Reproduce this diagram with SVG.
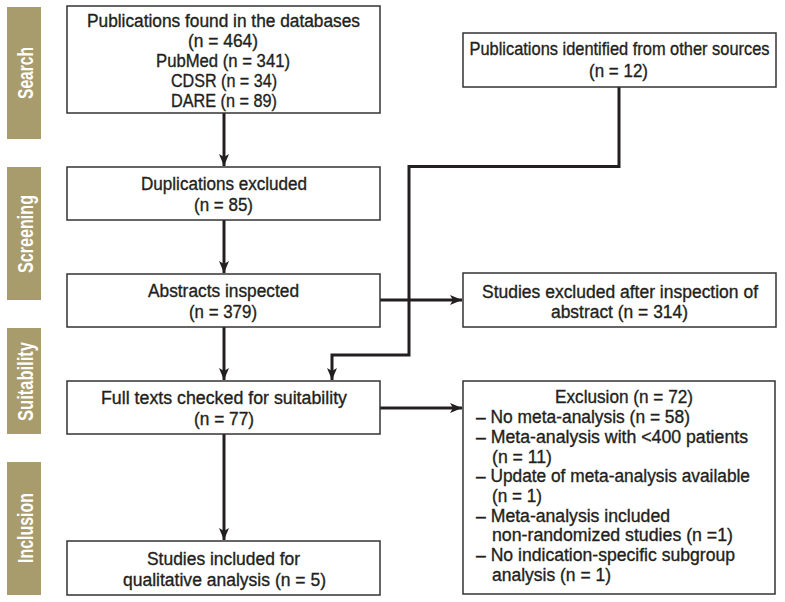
<svg xmlns="http://www.w3.org/2000/svg" width="785" height="602" viewBox="0 0 785 602">
<defs>
<marker id="ah" markerWidth="12" markerHeight="10" refX="12" refY="5" orient="auto" markerUnits="userSpaceOnUse">
<path d="M0,0 L12,5 L0,10 L3,5 Z" fill="#231f20"/>
</marker>
<style>
.bar{fill:#a89b6c}
.bt{fill:#fff;font-family:"Liberation Sans",Arial,sans-serif;font-weight:bold;font-size:22px;text-anchor:middle}
.box{fill:#fff;stroke:#333;stroke-width:1.5}
.t{fill:#231f20;font-family:"Liberation Sans",Arial,sans-serif;font-size:18px;text-anchor:middle;stroke:#231f20;stroke-width:0.35}
.l{text-anchor:start}
.c{fill:none;stroke:#231f20;stroke-width:3}
</style>
</defs>
<rect width="785" height="602" fill="#fff"/>
<g id="phases">
<g id="search"><rect class="bar" x="7" y="7" width="34" height="132"/><text class="bt" transform="translate(33,73) rotate(-90)" textLength="52" lengthAdjust="spacingAndGlyphs">Search</text></g>
<g id="screening"><rect class="bar" x="7" y="167" width="34" height="133"/><text class="bt" transform="translate(33,234) rotate(-90)" textLength="78" lengthAdjust="spacingAndGlyphs">Screening</text></g>
<g id="suitability"><rect class="bar" x="7" y="328" width="34" height="106"/><text class="bt" transform="translate(33,381.5) rotate(-90)" textLength="79" lengthAdjust="spacingAndGlyphs">Suitability</text></g>
<g id="inclusion"><rect class="bar" x="7" y="462" width="34" height="133"/><text class="bt" transform="translate(33,528) rotate(-90)" textLength="70" lengthAdjust="spacingAndGlyphs">Inclusion</text></g>
</g>
<g id="connectors">
<line class="c" x1="224" y1="113" x2="224" y2="166" marker-end="url(#ah)"/>
<line class="c" x1="224" y1="220" x2="224" y2="273" marker-end="url(#ah)"/>
<line class="c" x1="224" y1="327" x2="224" y2="380" marker-end="url(#ah)"/>
<line class="c" x1="224" y1="434" x2="224" y2="540" marker-end="url(#ah)"/>
<polyline class="c" points="619,87 619,166.5 409,166.5 409,355 332,355 332,380" marker-end="url(#ah)"/>
<line class="c" x1="380" y1="300" x2="462" y2="300" marker-end="url(#ah)"/>
<line class="c" x1="380" y1="408" x2="462" y2="408" marker-end="url(#ah)"/>
</g>
<g id="databases"><rect class="box" x="67" y="6" width="313" height="107"/>
<text class="t" x="223.5" y="27" textLength="273" lengthAdjust="spacingAndGlyphs">Publications found in the databases</text>
<text class="t" x="223" y="47" textLength="70" lengthAdjust="spacingAndGlyphs">(n = 464)</text>
<text class="t" x="223" y="67" textLength="134" lengthAdjust="spacingAndGlyphs">PubMed (n = 341)</text>
<text class="t" x="224" y="87" textLength="106" lengthAdjust="spacingAndGlyphs">CDSR (n = 34)</text>
<text class="t" x="224" y="107" textLength="106" lengthAdjust="spacingAndGlyphs">DARE (n = 89)</text></g>
<g id="other"><rect class="box" x="463" y="33" width="313" height="54"/>
<text class="t" transform="translate(619.5,55) scale(1,1.2)" style="font-size:15px;stroke-width:0.3" textLength="300" lengthAdjust="spacingAndGlyphs">Publications identified from other sources</text>
<text class="t" x="618.5" y="77" textLength="59" lengthAdjust="spacingAndGlyphs">(n = 12)</text></g>
<g id="duplications"><rect class="box" x="67" y="167" width="313" height="53"/>
<text class="t" x="224" y="190" textLength="166" lengthAdjust="spacingAndGlyphs">Duplications excluded</text>
<text class="t" x="223.5" y="211" textLength="59" lengthAdjust="spacingAndGlyphs">(n = 85)</text></g>
<g id="abstracts"><rect class="box" x="67" y="274" width="313" height="53"/>
<text class="t" x="223.5" y="297" textLength="151" lengthAdjust="spacingAndGlyphs">Abstracts inspected</text>
<text class="t" x="223" y="318" textLength="68" lengthAdjust="spacingAndGlyphs">(n = 379)</text></g>
<g id="excluded"><rect class="box" x="463" y="273" width="313" height="54"/>
<text class="t" x="620" y="298" textLength="276" lengthAdjust="spacingAndGlyphs">Studies excluded after inspection of</text>
<text class="t" x="619.5" y="318" textLength="137" lengthAdjust="spacingAndGlyphs">abstract (n = 314)</text></g>
<g id="fulltexts"><rect class="box" x="67" y="381" width="313" height="53"/>
<text class="t" x="224" y="404" textLength="246" lengthAdjust="spacingAndGlyphs">Full texts checked for suitability</text>
<text class="t" x="224" y="425" textLength="60" lengthAdjust="spacingAndGlyphs">(n = 77)</text></g>
<g id="exclusion"><rect class="box" x="463" y="381" width="312" height="213"/>
<text class="t" x="624" y="403" textLength="138" lengthAdjust="spacingAndGlyphs">Exclusion (n = 72)</text>
<text class="t l" x="476" y="423" textLength="214" lengthAdjust="spacingAndGlyphs">– No meta-analysis (n = 58)</text>
<text class="t l" x="476" y="443" textLength="272" lengthAdjust="spacingAndGlyphs">– Meta-analysis with &lt;400 patients</text>
<text class="t l" x="492" y="463" textLength="60" lengthAdjust="spacingAndGlyphs">(n = 11)</text>
<text class="t l" x="476" y="482" textLength="274" lengthAdjust="spacingAndGlyphs">– Update of meta-analysis available</text>
<text class="t l" x="492" y="502" textLength="50" lengthAdjust="spacingAndGlyphs">(n = 1)</text>
<text class="t l" x="476" y="522" textLength="194" lengthAdjust="spacingAndGlyphs">– Meta-analysis included</text>
<text class="t l" x="492" y="541" textLength="241" lengthAdjust="spacingAndGlyphs">non-randomized studies (n =1)</text>
<text class="t l" x="476" y="561" textLength="259" lengthAdjust="spacingAndGlyphs">– No indication-specific subgroup</text>
<text class="t l" x="492" y="581" textLength="119" lengthAdjust="spacingAndGlyphs">analysis (n = 1)</text></g>
<g id="included"><rect class="box" x="67" y="541" width="313" height="54"/>
<text class="t" x="223.5" y="565" textLength="153" lengthAdjust="spacingAndGlyphs">Studies included for</text>
<text class="t" x="224.5" y="586" textLength="203" lengthAdjust="spacingAndGlyphs">qualitative analysis (n = 5)</text></g>
</svg>
